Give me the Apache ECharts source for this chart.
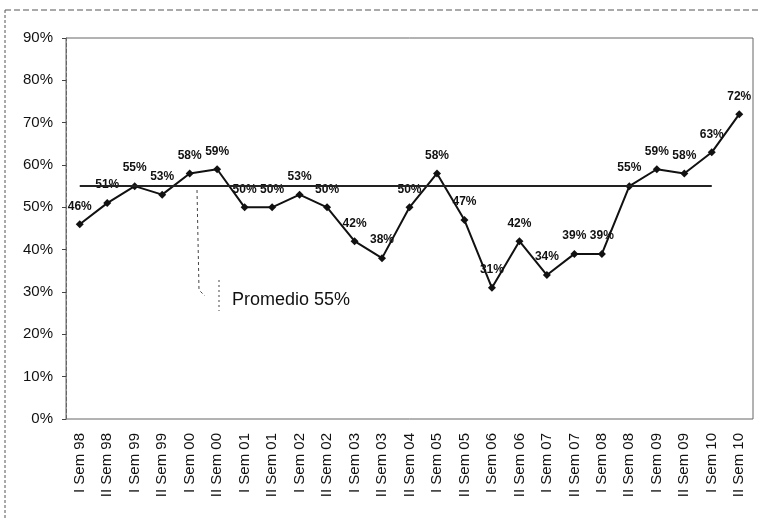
<!DOCTYPE html>
<html>
<head>
<meta charset="utf-8">
<script src="https://cdn.jsdelivr.net/npm/echarts@6/dist/echarts.min.js"></script>
<style>
  html, body { margin: 0; padding: 0; background: #fff; }
  #chart { width: 763px; height: 518px; }
</style>
</head>
<body>
<div id="chart"></div>
<script>
  const categories = ['I Sem 98', 'II Sem 98', 'I Sem 99', 'II Sem 99', 'I Sem 00', 'II Sem 00',
    'I Sem 01', 'II Sem 01', 'I Sem 02', 'II Sem 02', 'I Sem 03', 'II Sem 03', 'II Sem 04',
    'I Sem 05', 'II Sem 05', 'I Sem 06', 'II Sem 06', 'I Sem 07', 'II Sem 07', 'I Sem 08',
    'II Sem 08', 'I Sem 09', 'II Sem 09', 'I Sem 10', 'II Sem 10']
  const values = [46, 51, 55, 53, 58, 59, 50, 50, 53, 50, 42, 38, 50, 58, 47, 31, 42, 34, 39, 39, 55, 59, 58, 63, 72]
  const promedio = 55
  const yTicks = [0, 10, 20, 30, 40, 50, 60, 70, 80, 90]

  const chart = echarts.init(document.getElementById('chart'))

  chart.setOption({
    animation: false,
    backgroundColor: '#fff',
    grid: {
      left: 66,
      right: 10,
      top: 38,
      bottom: 99,
      show: true,
      borderColor: '#666',
      borderWidth: 1
    },
    xAxis: {
      type: 'category',
      data: categories,
      boundaryGap: true,
      axisLine: { show: false },
      axisTick: { show: false },
      axisLabel: {
        rotate: 90,
        interval: 0,
        margin: 14,
        color: '#111',
        fontFamily: 'Liberation Sans, Arial',
        fontSize: 15
      }
    },
    yAxis: {
      type: 'value',
      min: yTicks[0],
      max: yTicks[yTicks.length - 1],
      interval: 10,
      splitLine: { show: false },
      axisLine: { show: true, lineStyle: { color: '#666', type: 'dashed' } },
      axisTick: { show: true, length: 4, lineStyle: { color: '#444' } },
      axisLabel: {
        formatter: '{value}%',
        margin: 13,
        color: '#111',
        fontFamily: 'Liberation Sans, Arial',
        fontSize: 15
      }
    },
    series: [
      {
        name: 'Valor',
        type: 'line',
        data: values,
        symbol: 'diamond',
        symbolSize: 8,
        lineStyle: { color: '#111', width: 2 },
        itemStyle: { color: '#111' },
        label: {
          show: true,
          position: 'top',
          distance: 8,
          formatter: '{c}%',
          color: '#111',
          fontFamily: 'Liberation Sans, Arial',
          fontSize: 12,
          fontWeight: 'bold'
        },
        markLine: {
          silent: true,
          symbol: 'none',
          label: { show: false },
          lineStyle: { color: '#222', width: 2, type: 'solid' },
          data: [
            [{ coord: [0, promedio] }, { coord: [categories.length - 2, promedio] }]
          ]
        },
        z: 3
      }
    ],
    graphic: [
      {
        type: 'line',
        shape: { x1: 5, y1: 10, x2: 760, y2: 10 },
        style: { stroke: '#555', lineWidth: 1, lineDash: [6, 3] }
      },
      {
        type: 'line',
        shape: { x1: 5, y1: 10, x2: 5, y2: 518 },
        style: { stroke: '#555', lineWidth: 1, lineDash: [3, 2] }
      },
      {
        type: 'polyline',
        shape: { points: [[197, 190], [199, 290], [205, 296]] },
        style: { stroke: '#444', lineWidth: 1, lineDash: [3, 3], fill: null }
      },
      {
        type: 'line',
        shape: { x1: 219, y1: 280, x2: 219, y2: 311 },
        style: { stroke: '#444', lineWidth: 1, lineDash: [2, 3] }
      },
      {
        type: 'text',
        left: 232,
        top: 291,
        style: {
          text: 'Promedio ' + promedio + '%',
          fill: '#111',
          font: '18px "Liberation Sans", Arial'
        }
      }
    ]
  })
</script>
</body>
</html>
